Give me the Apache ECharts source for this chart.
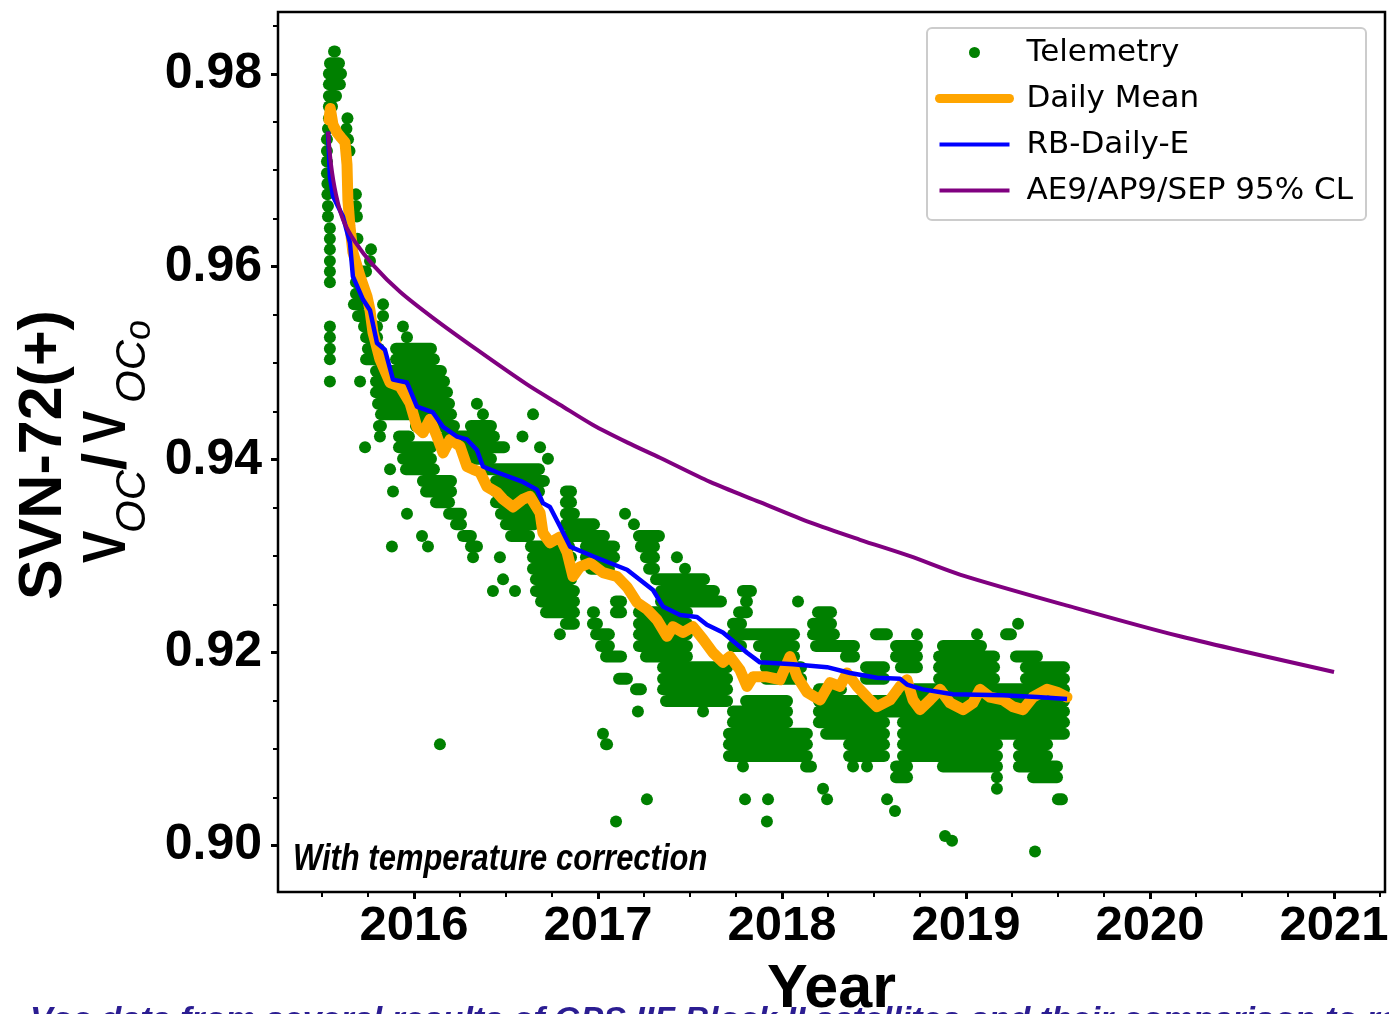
<!DOCTYPE html>
<html>
<head>
<meta charset="utf-8">
<script src="https://cdn.jsdelivr.net/npm/echarts@6/dist/echarts.min.js"></script>
<style>
  html, body { margin: 0; padding: 0; background: #ffffff; }
  #chart { width: 1389px; height: 1014px; }
</style>
</head>
<body>
<div id="chart"></div>
<script>
// Axis extents (decimal years, normalised open-circuit voltage)
const xRange = [2015.261, 2021.277];
const yRange = [0.8952, 0.9864];

// Tick positions
const yearTicks = [2016, 2017, 2018, 2019, 2020, 2021];
const yearMinorTicks = [2015.5, 2015.75, 2016.25, 2016.5, 2016.75, 2017.25, 2017.5, 2017.75,
  2018.25, 2018.5, 2018.75, 2019.25, 2019.5, 2019.75, 2020.25, 2020.5, 2020.75, 2021.25];
const valueTicks = [0.90, 0.92, 0.94, 0.96, 0.98];
const valueMinorTicks = [0.905, 0.91, 0.915, 0.925, 0.93, 0.935, 0.945, 0.95, 0.955,
  0.965, 0.97, 0.975, 0.985];

// Telemetry samples, grouped by quantised level:
// [level, start, end, start, end, ...] where each start/end pair is a run of samples
// (a single sample has start == end)
const telemetryRuns = [
  [0.9823, 2015.533, 2015.603],
  [0.9811, 2015.511, 2015.625],
  [0.9800, 2015.505, 2015.636],
  [0.9789, 2015.505, 2015.630],
  [0.9777, 2015.505, 2015.609],
  [0.9766, 2015.505, 2015.587],
  [0.9754, 2015.511, 2015.565, 2015.625, 2015.652],
  [0.9743, 2015.511, 2015.554, 2015.614, 2015.652],
  [0.9732, 2015.511, 2015.543, 2015.620, 2015.663],
  [0.9720, 2015.511, 2015.543, 2015.636, 2015.663],
  [0.9709, 2015.511, 2015.543],
  [0.9697, 2015.511, 2015.543],
  [0.9686, 2015.516, 2015.543],
  [0.9675, 2015.516, 2015.543, 2015.652, 2015.717],
  [0.9663, 2015.522, 2015.543, 2015.652, 2015.717],
  [0.9652, 2015.522, 2015.543, 2015.663, 2015.717],
  [0.9640, 2015.543, 2015.543],
  [0.9629, 2015.543, 2015.543, 2015.679, 2015.707],
  [0.9618, 2015.543, 2015.543, 2015.745, 2015.788],
  [0.9606, 2015.543, 2015.543, 2015.734, 2015.788],
  [0.9595, 2015.543, 2015.543, 2015.679, 2015.772],
  [0.9584, 2015.543, 2015.543, 2015.652, 2015.745],
  [0.9572, 2015.652, 2015.745],
  [0.9561, 2015.641, 2015.750, 2015.832, 2015.832],
  [0.9549, 2015.663, 2015.761, 2015.832, 2015.832],
  [0.9538, 2015.543, 2015.543, 2015.696, 2015.832, 2015.940, 2015.940],
  [0.9527, 2015.543, 2015.543, 2015.707, 2015.832, 2015.962, 2015.962],
  [0.9515, 2015.543, 2015.543, 2015.717, 2015.842, 2015.870, 2016.125],
  [0.9504, 2015.543, 2015.543, 2015.707, 2015.842, 2015.870, 2016.141],
  [0.9492, 2015.761, 2016.179],
  [0.9481, 2015.543, 2015.543, 2015.707, 2015.707, 2015.761, 2016.196],
  [0.9470, 2015.761, 2016.212],
  [0.9458, 2015.772, 2016.223, 2016.342, 2016.342],
  [0.9447, 2015.788, 2016.234, 2016.375, 2016.375, 2016.647, 2016.647],
  [0.9435, 2015.777, 2015.853, 2015.978, 2016.250, 2016.277, 2016.451],
  [0.9424, 2015.788, 2015.842, 2015.886, 2016.005, 2016.141, 2016.467, 2016.576, 2016.603],
  [0.9413, 2015.734, 2015.734, 2015.886, 2016.125, 2016.234, 2016.522, 2016.685, 2016.685],
  [0.9401, 2015.908, 2016.125, 2016.250, 2016.451, 2016.701, 2016.755],
  [0.9390, 2015.870, 2015.870, 2015.924, 2016.141, 2016.359, 2016.712],
  [0.9378, 2016.016, 2016.234, 2016.413, 2016.739],
  [0.9367, 2015.886, 2015.886, 2016.033, 2016.234, 2016.413, 2016.712, 2016.793, 2016.886],
  [0.9356, 2016.087, 2016.223, 2016.413, 2016.701, 2016.793, 2016.886],
  [0.9344, 2015.962, 2015.962, 2016.158, 2016.288, 2016.440, 2016.685, 2016.793, 2016.902, 2017.147, 2017.147],
  [0.9333, 2016.196, 2016.288, 2016.467, 2016.685, 2016.793, 2017.011, 2017.163, 2017.228],
  [0.9321, 2016.016, 2016.071, 2016.234, 2016.342, 2016.495, 2016.658, 2016.793, 2017.065, 2017.190, 2017.364],
  [0.9310, 2015.880, 2015.880, 2016.076, 2016.076, 2016.277, 2016.375, 2016.603, 2016.875, 2016.902, 2017.120, 2017.201, 2017.337],
  [0.9299, 2016.321, 2016.321, 2016.467, 2016.467, 2016.614, 2016.886, 2016.902, 2017.120, 2017.228, 2017.337, 2017.429, 2017.429],
  [0.9287, 2016.614, 2016.886, 2016.929, 2017.092, 2017.245, 2017.337, 2017.446, 2017.500],
  [0.9276, 2016.484, 2016.484, 2016.630, 2016.886, 2017.283, 2017.609],
  [0.9264, 2016.429, 2016.429, 2016.549, 2016.549, 2016.630, 2016.902, 2017.310, 2017.663, 2017.755, 2017.864],
  [0.9253, 2016.658, 2016.902, 2017.065, 2017.158, 2017.310, 2017.701, 2017.772, 2017.842, 2018.087, 2018.087],
  [0.9242, 2016.685, 2016.902, 2016.940, 2017.011, 2017.065, 2017.158, 2017.190, 2017.516, 2017.734, 2017.842, 2018.163, 2018.299],
  [0.9230, 2016.793, 2016.902, 2016.940, 2017.027, 2017.190, 2017.516, 2017.701, 2017.810, 2018.136, 2018.299, 2019.283, 2019.283],
  [0.9219, 2016.793, 2016.793, 2016.957, 2017.092, 2017.190, 2017.516, 2017.701, 2018.098, 2018.136, 2018.315, 2018.478, 2018.603, 2018.734, 2018.734, 2019.060, 2019.060, 2019.185, 2019.277],
  [0.9207, 2016.984, 2017.092, 2017.190, 2017.516, 2017.701, 2017.810, 2017.842, 2018.098, 2018.152, 2018.424, 2018.587, 2018.766, 2018.842, 2019.114],
  [0.9196, 2017.011, 2017.158, 2017.228, 2017.516, 2017.880, 2018.098, 2018.315, 2018.424, 2018.587, 2018.766, 2018.821, 2019.185, 2019.239, 2019.418],
  [0.9185, 2017.321, 2017.734, 2017.880, 2018.136, 2018.424, 2018.587, 2018.614, 2018.766, 2018.821, 2019.185, 2019.293, 2019.565],
  [0.9173, 2017.082, 2017.190, 2017.321, 2017.734, 2017.880, 2018.136, 2018.424, 2018.587, 2018.821, 2019.185, 2019.293, 2019.565],
  [0.9162, 2017.174, 2017.266, 2017.321, 2017.734, 2018.168, 2018.353, 2018.625, 2019.565],
  [0.9150, 2017.337, 2017.734, 2017.772, 2018.060, 2018.168, 2019.565],
  [0.9139, 2017.217, 2017.217, 2017.571, 2017.571, 2017.701, 2018.060, 2018.168, 2019.565],
  [0.9128, 2017.701, 2018.060, 2018.168, 2018.587, 2018.625, 2019.565],
  [0.9116, 2017.027, 2017.027, 2017.679, 2018.168, 2018.207, 2018.587, 2018.625, 2019.565],
  [0.9105, 2016.141, 2016.141, 2017.011, 2017.082, 2017.679, 2018.168, 2018.332, 2018.587, 2018.625, 2019.201, 2019.255, 2019.473],
  [0.9093, 2017.679, 2018.168, 2018.332, 2018.587, 2018.625, 2019.201, 2019.255, 2019.473],
  [0.9082, 2017.788, 2017.788, 2018.098, 2018.190, 2018.386, 2018.386, 2018.462, 2018.462, 2018.587, 2018.712, 2018.842, 2019.201, 2019.255, 2019.527],
  [0.9071, 2018.587, 2018.712, 2019.168, 2019.168, 2019.332, 2019.527],
  [0.9059, 2018.223, 2018.223, 2019.168, 2019.168],
  [0.9048, 2017.266, 2017.266, 2017.799, 2017.799, 2017.924, 2017.924, 2018.245, 2018.245, 2018.571, 2018.571, 2019.467, 2019.554],
  [0.9036, 2018.614, 2018.614],
  [0.9025, 2017.098, 2017.098, 2017.918, 2017.918],
  [0.9010, 2018.886, 2018.886],
  [0.9005, 2018.924, 2018.924],
  [0.8994, 2019.375, 2019.375]
];

// Daily mean of the telemetry [year, value]
const dailyMean = [
  [2015.538, 0.9752], [2015.545, 0.9764], [2015.560, 0.9747], [2015.582, 0.9739], [2015.603, 0.9734],
  [2015.625, 0.9729], [2015.636, 0.9706], [2015.641, 0.9669], [2015.652, 0.9642], [2015.668, 0.9615],
  [2015.707, 0.9590], [2015.745, 0.9569], [2015.761, 0.9555], [2015.777, 0.9532], [2015.815, 0.9504],
  [2015.870, 0.9480], [2015.924, 0.9476], [2015.978, 0.9459], [2016.016, 0.9434], [2016.049, 0.9428],
  [2016.087, 0.9442], [2016.125, 0.9424], [2016.158, 0.9407], [2016.196, 0.9421], [2016.250, 0.9414],
  [2016.288, 0.9393], [2016.321, 0.9390], [2016.359, 0.9387], [2016.397, 0.9372], [2016.451, 0.9366],
  [2016.484, 0.9359], [2016.538, 0.9351], [2016.592, 0.9359], [2016.630, 0.9362], [2016.685, 0.9345],
  [2016.701, 0.9324], [2016.739, 0.9314], [2016.793, 0.9320], [2016.832, 0.9304], [2016.864, 0.9279],
  [2016.902, 0.9289], [2016.957, 0.9293], [2017.027, 0.9283], [2017.103, 0.9279], [2017.158, 0.9268],
  [2017.212, 0.9252], [2017.266, 0.9245], [2017.321, 0.9234], [2017.375, 0.9217], [2017.408, 0.9227],
  [2017.462, 0.9221], [2017.516, 0.9227], [2017.571, 0.9214], [2017.625, 0.9200], [2017.679, 0.9190],
  [2017.717, 0.9196], [2017.772, 0.9182], [2017.810, 0.9165], [2017.842, 0.9175], [2017.918, 0.9175],
  [2017.989, 0.9172], [2018.043, 0.9196], [2018.082, 0.9175], [2018.136, 0.9159], [2018.207, 0.9151],
  [2018.261, 0.9169], [2018.315, 0.9165], [2018.353, 0.9179], [2018.408, 0.9165], [2018.462, 0.9154],
  [2018.516, 0.9144], [2018.587, 0.9151], [2018.641, 0.9165], [2018.679, 0.9172], [2018.712, 0.9151],
  [2018.750, 0.9141], [2018.804, 0.9151], [2018.859, 0.9162], [2018.913, 0.9148], [2018.984, 0.9141],
  [2019.038, 0.9148], [2019.076, 0.9162], [2019.130, 0.9154], [2019.201, 0.9151], [2019.255, 0.9144],
  [2019.310, 0.9141], [2019.364, 0.9154], [2019.440, 0.9162], [2019.495, 0.9159], [2019.549, 0.9154]
];

// RB-Daily-E degradation model [year, value]
const rbDailyE = [
  [2015.533, 0.9740], [2015.543, 0.9693], [2015.560, 0.9673], [2015.614, 0.9652], [2015.652, 0.9625],
  [2015.668, 0.9590], [2015.723, 0.9566], [2015.761, 0.9555], [2015.799, 0.9521], [2015.842, 0.9514],
  [2015.886, 0.9483], [2015.962, 0.9480], [2016.016, 0.9455], [2016.103, 0.9449], [2016.158, 0.9434],
  [2016.234, 0.9424], [2016.288, 0.9421], [2016.342, 0.9410], [2016.375, 0.9393], [2016.451, 0.9387],
  [2016.522, 0.9382], [2016.592, 0.9377], [2016.668, 0.9369], [2016.701, 0.9355], [2016.739, 0.9351],
  [2016.793, 0.9331], [2016.848, 0.9310], [2016.973, 0.9300], [2017.158, 0.9286], [2017.299, 0.9265],
  [2017.353, 0.9248], [2017.446, 0.9239], [2017.538, 0.9237], [2017.592, 0.9229], [2017.679, 0.9221],
  [2017.810, 0.9200], [2017.880, 0.9190], [2018.060, 0.9188], [2018.245, 0.9185], [2018.370, 0.9179],
  [2018.516, 0.9174], [2018.641, 0.9173], [2018.679, 0.9167], [2018.766, 0.9162], [2018.929, 0.9157],
  [2019.201, 0.9156], [2019.386, 0.9154], [2019.549, 0.9152]
];

// AE9/AP9/SEP 95% confidence-level prediction [year, value]
const ae9Model = [
  [2015.533, 0.9740], [2015.549, 0.9706], [2015.576, 0.9675], [2015.614, 0.9649], [2015.679, 0.9626],
  [2015.777, 0.9602], [2015.924, 0.9574], [2016.103, 0.9547], [2016.342, 0.9514], [2016.614, 0.9478],
  [2016.793, 0.9457], [2016.973, 0.9436], [2017.158, 0.9418], [2017.337, 0.9402], [2017.609, 0.9377],
  [2017.880, 0.9356], [2018.152, 0.9335], [2018.424, 0.9317], [2018.696, 0.9300], [2018.967, 0.9281],
  [2019.565, 0.9248], [2020.163, 0.9217], [2021.000, 0.9180]
];

const seriesNames = ['Telemetry', 'Daily Mean', 'RB-Daily-E', 'AE9/AP9/SEP 95% CL'];

// Flatten the telemetry runs into [start, end, level] items
const telemetryItems = [];
telemetryRuns.forEach(function (row) {
  for (let i = 1; i + 1 < row.length; i += 2) {
    telemetryItems.push([row[i], row[i + 1], row[0]]);
  }
});

const SANS = '"Liberation Sans", Arial, Helvetica, sans-serif';
const DOT = 12;

const chart = echarts.init(document.getElementById('chart'), null, { renderer: 'canvas' });

function axisCommon(range) {
  return {
    type: 'value', min: range[0], max: range[1],
    axisLine: { show: false }, splitLine: { show: false }
  };
}

chart.setOption({
  animation: false,
  backgroundColor: '#ffffff',
  grid: {
    left: 278, right: 4, top: 12, bottom: 122,
    containLabel: false, outerBoundsMode: 'none',
    show: true, borderColor: '#000000', borderWidth: 2.5, backgroundColor: 'transparent'
  },
  xAxis: [
    Object.assign(axisCommon(xRange), {
      position: 'bottom',
      axisTick: { show: true, customValues: yearTicks, length: 7, lineStyle: { color: '#000', width: 3 } },
      axisLabel: {
        customValues: yearTicks, margin: 10,
        formatter: function (v) { return String(Math.round(v)); },
        fontSize: 49, fontWeight: 'bold', fontFamily: SANS, color: '#000'
      },
      name: 'Year', nameLocation: 'middle', nameGap: 68,
      nameTextStyle: { fontSize: 61, fontWeight: 'bold', fontFamily: SANS, color: '#000' }
    }),
    Object.assign(axisCommon(xRange), {
      position: 'bottom',
      axisTick: { show: true, customValues: yearMinorTicks, length: 5, lineStyle: { color: '#000', width: 2 } },
      axisLabel: { show: false }
    })
  ],
  yAxis: [
    Object.assign(axisCommon(yRange), {
      position: 'left',
      axisTick: { show: true, customValues: valueTicks, length: 7, lineStyle: { color: '#000', width: 3 } },
      axisLabel: {
        customValues: valueTicks, margin: 16,
        formatter: function (v) { return v.toFixed(2); },
        fontSize: 50, fontWeight: 'bold', fontFamily: SANS, color: '#000'
      }
    }),
    Object.assign(axisCommon(yRange), {
      position: 'left',
      axisTick: { show: true, customValues: valueMinorTicks, length: 5, lineStyle: { color: '#000', width: 2 } },
      axisLabel: { show: false }
    })
  ],
  legend: {
    orient: 'vertical', left: 927, top: 28,
    padding: [9, 13, 14, 8], itemGap: 15, itemWidth: 70, itemHeight: 11,
    backgroundColor: '#ffffff', borderColor: '#cccccc', borderWidth: 2, borderRadius: 5,
    selectedMode: false,
    textStyle: { fontFamily: '"DejaVu Sans", sans-serif', fontSize: 31, color: '#000', padding: [0, 0, 0, 12] },
    data: [
      { name: seriesNames[0], icon: 'circle' },
      { name: seriesNames[1], lineStyle: { width: 9 }, itemStyle: { opacity: 0 } },
      { name: seriesNames[2], lineStyle: { width: 4 }, itemStyle: { opacity: 0 } },
      { name: seriesNames[3], lineStyle: { width: 4 }, itemStyle: { opacity: 0 } }
    ]
  },
  series: [
    {
      name: seriesNames[0], type: 'custom', coordinateSystem: 'cartesian2d',
      xAxisIndex: 0, yAxisIndex: 0, z: 2,
      itemStyle: { color: '#008000' },
      encode: { x: [0, 1], y: 2 },
      data: telemetryItems,
      renderItem: function (params, api) {
        const a = api.coord([api.value(0), api.value(2)]);
        const b = api.coord([api.value(1), api.value(2)]);
        const w = Math.max(b[0] - a[0], DOT);
        const cx = (a[0] + b[0]) / 2;
        return {
          type: 'rect',
          shape: { x: cx - w / 2, y: a[1] - DOT / 2, width: w, height: DOT, r: DOT / 2 },
          style: { fill: '#008000' }
        };
      }
    },
    {
      name: seriesNames[1], type: 'line', data: dailyMean, z: 3,
      symbol: 'none', showSymbol: false, color: '#ffa500',
      lineStyle: { color: '#ffa500', width: 11, join: 'round', cap: 'round' }
    },
    {
      name: seriesNames[2], type: 'line', data: rbDailyE, z: 4,
      symbol: 'none', showSymbol: false, color: '#0000ff',
      lineStyle: { color: '#0000ff', width: 4.5, join: 'round' }
    },
    {
      name: seriesNames[3], type: 'line', data: ae9Model, z: 5, smooth: 0.3,
      symbol: 'none', showSymbol: false, color: '#800080',
      lineStyle: { color: '#800080', width: 4 }
    }
  ],
  graphic: [
    {
      type: 'text', left: 293, top: 842, z: 20,
      scaleX: 0.86,
      style: {
        text: 'With temperature correction',
        font: 'italic bold 36px ' + SANS, fill: '#000'
      }
    },
    {
      type: 'text', left: 30, top: 1004, z: 20,
      style: {
        text: 'Voc data from several results of GPS IIF Block II satellites and their comparison to radiation predictions',
        font: 'italic bold 34px ' + SANS, fill: '#2b1d92'
      }
    },
    {
      type: 'group', x: 0, y: 600, rotation: Math.PI / 2, z: 20,
      children: [
        { type: 'text', x: 0, y: 44, style: { text: 'SVN-72(+)', font: 'bold 61px ' + SANS, fill: '#000', align: 'left', verticalAlign: 'middle' } },
        { type: 'text', x: 37, y: 108, scaleX: 0.78, style: { text: 'V', font: 'bold 62px ' + SANS, fill: '#000', align: 'left', verticalAlign: 'middle' } },
        { type: 'text', x: 67, y: 133, style: { text: 'OC', font: 'italic 42px ' + SANS, fill: '#000', align: 'left', verticalAlign: 'middle' } },
        { type: 'text', x: 130, y: 108, style: { text: '/', font: 'bold 62px ' + SANS, fill: '#000', align: 'left', verticalAlign: 'middle' } },
        { type: 'text', x: 157, y: 108, scaleX: 0.78, style: { text: 'V', font: 'bold 62px ' + SANS, fill: '#000', align: 'left', verticalAlign: 'middle' } },
        { type: 'text', x: 197, y: 133, style: { text: 'OC', font: 'italic 42px ' + SANS, fill: '#000', align: 'left', verticalAlign: 'middle' } },
        { type: 'text', x: 260, y: 140, style: { text: 'o', font: 'italic 36px ' + SANS, fill: '#000', align: 'left', verticalAlign: 'middle' } }
      ]
    }
  ]
});
</script>
</body>
</html>
